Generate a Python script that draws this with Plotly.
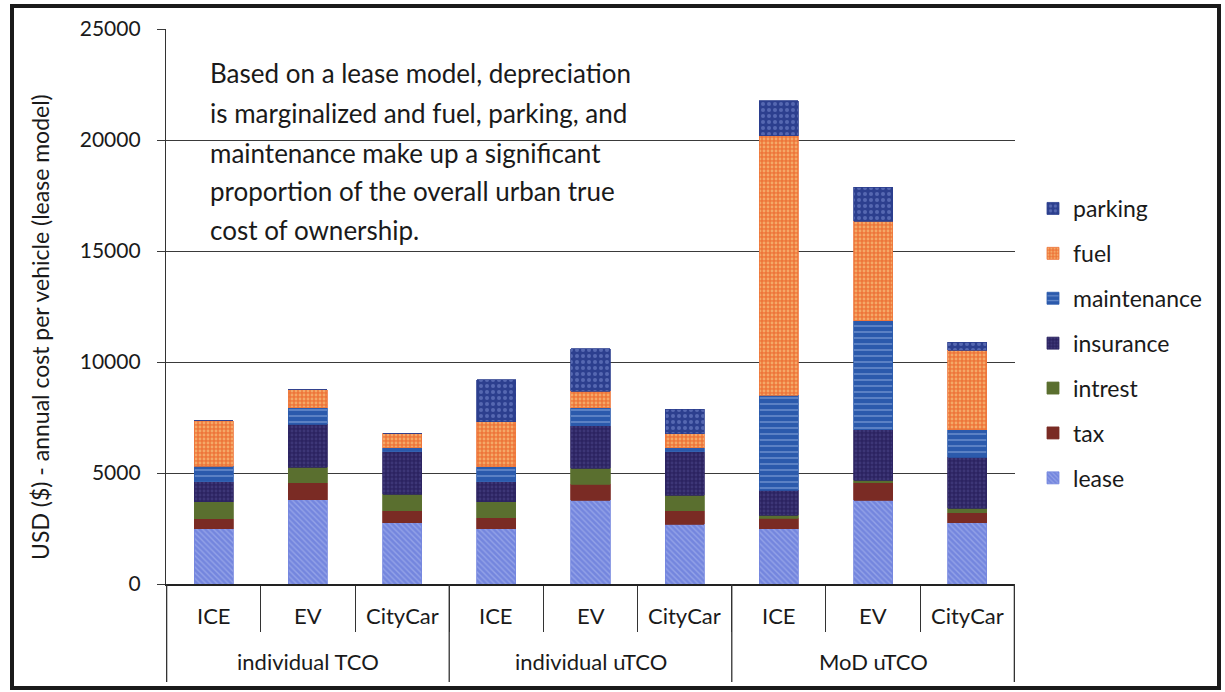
import plotly.graph_objects as go

# Cost categories (x axis: scenario group / vehicle type)
groups = ["individual TCO"] * 3 + ["individual uTCO"] * 3 + ["MoD uTCO"] * 3
vehicles = ["ICE", "EV", "CityCar"] * 3

# Annual cost components per vehicle, USD (lease model)
lease = [2500, 3800, 2750, 2500, 3780, 2700, 2480, 3780, 2750]
tax = [450, 750, 540, 480, 720, 590, 490, 770, 450]
intrest = [750, 720, 760, 720, 720, 710, 130, 130, 220]
insurance = [900, 1930, 1900, 910, 1900, 1950, 1130, 2260, 2300]
maintenance = [700, 730, 180, 670, 810, 180, 4270, 4910, 1220]
fuel = [2050, 810, 670, 2030, 760, 630, 11700, 4500, 3600]
parking = [0, 0, 0, 1890, 1900, 1120, 1560, 1530, 360]

y_ticks = [0, 5000, 10000, 15000, 20000, 25000]

note_lines = [
    "Based on a lease model, depreciation",
    "is marginalized and fuel, parking, and",
    "maintenance make up a significant",
    "proportion of the overall urban true",
    "cost of ownership.",
]

FONT = "Lato"
INK = "#1a1a1a"
W, H = 1225, 692
L, R, T, B = 166, 210, 29, 108
PW, PH = W - L - R, H - T - B


def px_x(x):
    return (x - L) / PW


def px_y(y):
    return (H - B - y) / PH


series = [
    ("lease", lease, dict(color="#7486de", pattern=dict(shape="\\", fgcolor="#b4c0f2", size=4, solidity=0.35))),
    ("tax", tax, dict(color="#7a2b24")),
    ("intrest", intrest, dict(color="#5a6f2f")),
    ("insurance", insurance, dict(color="#2c2361", pattern=dict(shape=".", fgcolor="#4d4a8e", size=4, solidity=0.4))),
    ("maintenance", maintenance, dict(color="#2b5aac", pattern=dict(shape="-", fgcolor="#a9c2ec", size=6, solidity=0.25))),
    ("fuel", fuel, dict(color="#ee763a", pattern=dict(shape=".", fgcolor="#f9dc96", size=4, solidity=0.4))),
    ("parking", parking, dict(color="#2c3f8e", pattern=dict(shape=".", fgcolor="#7f91d4", size=6, solidity=0.35))),
]

fig = go.Figure()
n_series = len(series)
for k, (name, vals, marker) in enumerate(series):
    fig.add_trace(go.Bar(
        x=[groups, vehicles],
        y=vals,
        name=name,
        legendgroup=name,
        legendrank=n_series - k,
        marker=dict(line=dict(width=0.8, color=marker["color"]), **marker),
    ))

# Category labels (two rows) placed on the x axis positions
for i, v in enumerate(vehicles):
    fig.add_annotation(text=v, xref="x", yref="paper", x=i, y=px_y(615),
                       xanchor="center", yanchor="middle", showarrow=False,
                       font=dict(family=FONT, size=22, color=INK))

group_names = list(dict.fromkeys(groups))
bounds = [-0.5]
for g in group_names:
    idx = [i for i, gg in enumerate(groups) if gg == g]
    fig.add_annotation(text=g, xref="x", yref="paper", x=sum(idx) / len(idx), y=px_y(661),
                       xanchor="center", yanchor="middle", showarrow=False,
                       font=dict(family=FONT, size=22, color=INK))
    bounds.append(idx[-1] + 0.5)

# Group dividers running through both label rows
for b in bounds:
    fig.add_shape(type="line", xref="x", yref="paper", x0=b, x1=b,
                  y0=0, y1=px_y(682), line=dict(color="#333", width=1.3))

# White note box hides the gridlines behind the annotation text
fig.add_shape(type="rect", xref="paper", yref="paper",
              x0=px_x(190), x1=px_x(668), y0=px_y(252), y1=px_y(45),
              fillcolor="white", line=dict(width=0), layer="between")

baselines = [80, 120, 160, 198, 237]
for line, base in zip(note_lines, baselines):
    fig.add_annotation(text=line, xref="paper", yref="paper",
                       x=px_x(208), y=px_y(base - 7), xanchor="left", yanchor="middle",
                       showarrow=False, font=dict(family=FONT, size=26, color=INK))

# Y-axis title
fig.add_annotation(text="USD ($) - annual cost per vehicle (lease model)",
                   xref="paper", yref="paper", x=px_x(40), y=px_y(327),
                   xanchor="center", yanchor="middle",
                   textangle=-90, showarrow=False,
                   font=dict(family=FONT, size=23, color=INK))

# Outer frame
fig.add_shape(type="rect", xref="paper", yref="paper",
              x0=px_x(12), x1=px_x(1219), y0=px_y(688), y1=px_y(6),
              line=dict(color=INK, width=4), fillcolor="rgba(0,0,0,0)", layer="above")

fig.update_layout(
    width=W, height=H,
    margin=dict(l=L, r=R, t=T, b=B, autoexpand=False),
    barmode="stack",
    bargap=0.585,
    plot_bgcolor="white",
    paper_bgcolor="white",
    font=dict(family=FONT, size=20, color=INK),
    legend=dict(
        x=px_x(1033), y=px_y(187), xanchor="left", yanchor="top",
        traceorder="grouped", tracegroupgap=12,
        font=dict(family=FONT, size=23, color=INK),
        bgcolor="rgba(0,0,0,0)",
    ),
    xaxis=dict(
        type="multicategory",
        showticklabels=False,
        showline=True, linecolor="#222", linewidth=1.5,
        ticks="outside", tickson="boundaries", ticklen=46, tickcolor="#333", tickwidth=1.2,
        showdividers=False,
        showgrid=False,
    ),
    yaxis=dict(
        range=[0, 25000],
        tickvals=y_ticks,
        ticktext=[str(v) for v in y_ticks],
        showgrid=True, gridcolor="#3a3a3a", gridwidth=1.3,
        showline=True, linecolor="#333", linewidth=1.3,
        ticks="outside", ticklen=8, tickcolor="#3a3a3a",
        ticklabelstandoff=12,
        tickfont=dict(family=FONT, size=21, color=INK),
        zeroline=False,
    ),
)

fig.write_html("out.html")
